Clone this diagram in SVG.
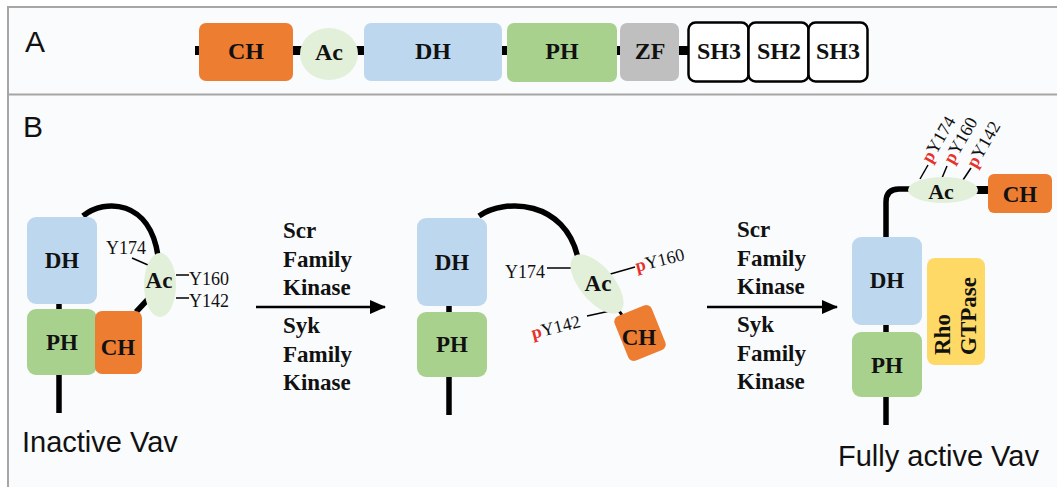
<svg xmlns="http://www.w3.org/2000/svg" width="1057" height="487" viewBox="0 0 1057 487">
<defs>
<style>
.lbl{font-family:"Liberation Serif","Times New Roman",serif;font-weight:bold;fill:#111;text-anchor:middle}
.small{font-family:"Liberation Serif","Times New Roman",serif;font-size:18px;fill:#111}
.p{fill:#E8312A;font-weight:bold}
.kin{font-family:"Liberation Serif","Times New Roman",serif;font-weight:bold;font-size:23px;fill:#111}
.sans{font-family:"Liberation Sans",Arial,sans-serif;fill:#111}
.ch{fill:#ED7D31}
.dh{fill:#BDD7EE}
.ph{fill:#A9D18E}
.ac{fill:#E2F0D9}
.zf{fill:#BFBFBF}
.sh{fill:#FFFFFF;stroke:#000;stroke-width:2.5}
.rho{fill:#FFD966}
.thick{stroke:#000;stroke-width:5.5;fill:none}
.thin{stroke:#000;stroke-width:1.5;fill:none}
.arr{stroke:#000;stroke-width:2.5;fill:none}
</style>
<marker id="ah" markerWidth="16" markerHeight="14" refX="15" refY="7" orient="auto" markerUnits="userSpaceOnUse">
<path d="M0,0 L16,7 L0,14 Z" fill="#000"/>
</marker>
</defs>
<rect x="0" y="0" width="1057" height="487" fill="#FFFFFF"/>
<rect x="8" y="7" width="1060" height="490" fill="#FAFBFD" stroke="#A6A6A6" stroke-width="2"/>
<line x1="8" y1="94.5" x2="1057" y2="94.5" stroke="#A6A6A6" stroke-width="2"/>

<text class="sans" x="25" y="52" font-size="30">A</text>
<text class="sans" x="23" y="137" font-size="30">B</text>

<!-- Panel A -->
<g id="connectors-a">
<rect x="195" y="46" width="493" height="9" fill="#000"/>
</g>
<g id="a-ch"><rect class="ch" x="199" y="23" width="94" height="58" rx="7"/><text class="lbl" font-size="24" x="246" y="59">CH</text></g>
<g id="a-ac"><ellipse class="ac" cx="329" cy="54" rx="29" ry="26"/><text class="lbl" font-size="24" x="329" y="60">Ac</text></g>
<g id="a-dh"><rect class="dh" x="364" y="23" width="138" height="58" rx="7"/><text class="lbl" font-size="24" x="433" y="59">DH</text></g>
<g id="a-ph"><rect class="ph" x="507" y="23" width="110" height="59" rx="7"/><text class="lbl" font-size="24" x="562" y="59">PH</text></g>
<g id="a-zf"><rect class="zf" x="620" y="23" width="59" height="58" rx="7"/><text class="lbl" font-size="24" x="650" y="59">ZF</text></g>
<g id="a-sh3a"><rect class="sh" x="688.5" y="22.5" width="60" height="59" rx="7"/><text class="lbl" font-size="24" x="719" y="59">SH3</text></g>
<g id="a-sh2"><rect class="sh" x="748.5" y="22.5" width="60" height="59" rx="7"/><text class="lbl" font-size="24" x="779" y="59">SH2</text></g>
<g id="a-sh3b"><rect class="sh" x="808.5" y="22.5" width="59" height="59" rx="7"/><text class="lbl" font-size="24" x="838" y="59">SH3</text></g>

<!-- Panel B connectors -->
<g id="connectors">
<!-- inactive -->
<line class="thick" x1="59" y1="300" x2="59" y2="313"/>
<line class="thick" x1="59" y1="372" x2="59" y2="413"/>
<path class="thick" d="M83,216 C105,198 150,200 158,256"/>
<line class="thick" x1="151" y1="296" x2="136" y2="312"/>
<line class="thin" x1="132" y1="258" x2="148" y2="265"/>
<line class="thin" x1="176" y1="275" x2="189" y2="275"/>
<line class="thin" x1="176" y1="298" x2="189" y2="298"/>
<!-- middle -->
<line class="thick" x1="449" y1="302" x2="449" y2="316"/>
<line class="thick" x1="449" y1="374" x2="449" y2="415"/>
<path class="thick" d="M479,216 C505,198 565,200 578,258"/>
<line class="thin" x1="547" y1="268" x2="573" y2="268"/>
<line class="thin" x1="607" y1="275" x2="635" y2="267"/>
<line class="thin" x1="587" y1="316" x2="610" y2="311"/>
<line stroke="#000" stroke-width="3" x1="617" y1="308" x2="622" y2="315"/>
<!-- active -->
<line class="thick" x1="886" y1="321" x2="886" y2="336"/>
<line class="thick" x1="886" y1="394" x2="886" y2="425"/>
<path class="thick" d="M886,238 L886,202 Q886,189 899,189 L912,189"/>
<rect x="975" y="186" width="14" height="8" fill="#000"/>
<line class="thin" x1="920" y1="179" x2="928" y2="165"/>
<line class="thin" x1="942" y1="178" x2="947" y2="166"/>
<line class="thin" x1="963" y1="180" x2="971" y2="168"/>
<!-- arrows -->
<line class="arr" x1="256" y1="307" x2="385" y2="307" marker-end="url(#ah)"/>
<line class="arr" x1="707" y1="307" x2="837" y2="307" marker-end="url(#ah)"/>
</g>

<!-- Inactive Vav -->
<g id="inactive-dh"><rect class="dh" x="27" y="217" width="70" height="87" rx="9"/><text class="lbl" font-size="23" x="62" y="268">DH</text></g>
<g id="inactive-ph"><rect class="ph" x="27" y="309" width="70" height="66" rx="9"/><text class="lbl" font-size="23" x="62" y="350">PH</text></g>
<g id="inactive-ch"><rect class="ch" x="95" y="311" width="47" height="63" rx="7"/><text class="lbl" font-size="23" x="118" y="355">CH</text></g>
<g id="inactive-ac"><ellipse class="ac" cx="160" cy="285" rx="16" ry="32"/><text class="lbl" font-size="23" x="159" y="288">Ac</text></g>
<g id="inactive-labels">
<text class="small" x="106" y="254">Y174</text>
<text class="small" x="189" y="285">Y160</text>
<text class="small" x="189" y="307">Y142</text>
</g>
<text class="sans" x="22" y="452" font-size="29">Inactive Vav</text>

<!-- arrow labels -->
<g id="kinase-1">
<text class="kin" x="283" y="238">Scr</text>
<text class="kin" x="283" y="267">Family</text>
<text class="kin" x="283" y="295">Kinase</text>
<text class="kin" x="283" y="333">Syk</text>
<text class="kin" x="283" y="362">Family</text>
<text class="kin" x="283" y="390">Kinase</text>
</g>
<g id="kinase-2">
<text class="kin" x="737" y="237">Scr</text>
<text class="kin" x="737" y="266">Family</text>
<text class="kin" x="737" y="294">Kinase</text>
<text class="kin" x="737" y="332">Syk</text>
<text class="kin" x="737" y="361">Family</text>
<text class="kin" x="737" y="389">Kinase</text>
</g>

<!-- Middle state -->
<g id="mid-dh"><rect class="dh" x="417" y="218" width="70" height="88" rx="9"/><text class="lbl" font-size="23" x="452" y="270">DH</text></g>
<g id="mid-ph"><rect class="ph" x="417" y="312" width="70" height="65" rx="9"/><text class="lbl" font-size="23" x="452" y="352">PH</text></g>
<g id="mid-ac"><ellipse class="ac" cx="597" cy="284" rx="36" ry="17" transform="rotate(50 597 284)"/><text class="lbl" font-size="23" x="598" y="291">Ac</text></g>
<g id="mid-ch"><rect class="ch" x="620" y="309" width="40" height="48" rx="6" transform="rotate(-22 640 333)"/><text class="lbl" font-size="23" x="639" y="345">CH</text></g>
<g id="mid-labels">
<text class="small" x="505" y="278">Y174</text>
<text class="small" x="637" y="272" transform="rotate(-14 637 272)"><tspan class="p">p</tspan>Y160</text>
<text class="small" x="533" y="339" transform="rotate(-14 533 339)"><tspan class="p">p</tspan>Y142</text>
</g>

<!-- Fully active -->
<g id="act-dh"><rect class="dh" x="852" y="237" width="70" height="88" rx="9"/><text class="lbl" font-size="23" x="887" y="288">DH</text></g>
<g id="act-ph"><rect class="ph" x="852" y="332" width="70" height="65" rx="9"/><text class="lbl" font-size="23" x="887" y="373">PH</text></g>
<g id="act-ac"><ellipse class="ac" cx="943" cy="190" rx="35" ry="13"/><text class="lbl" font-size="22" x="941" y="199">Ac</text></g>
<g id="act-ch"><rect class="ch" x="988" y="174" width="64" height="39" rx="6"/><text class="lbl" font-size="23" x="1020" y="202">CH</text></g>
<g id="rho"><rect class="rho" x="927" y="258" width="58" height="107" rx="8"/>
<text class="lbl" font-size="23" text-anchor="start" style="text-anchor:start" transform="translate(950 355) rotate(-90)">Rho</text>
<text class="lbl" font-size="23" style="text-anchor:start" transform="translate(976 355) rotate(-90)">GTPase</text>
</g>
<g id="act-labels">
<text class="small" x="931" y="164" transform="rotate(-60 931 164)"><tspan class="p">p</tspan>Y174</text>
<text class="small" x="953" y="165" transform="rotate(-60 953 165)"><tspan class="p">p</tspan>Y160</text>
<text class="small" x="976" y="169" transform="rotate(-60 976 169)"><tspan class="p">p</tspan>Y142</text>
</g>
<text class="sans" x="838" y="466" font-size="29">Fully active Vav</text>
</svg>
